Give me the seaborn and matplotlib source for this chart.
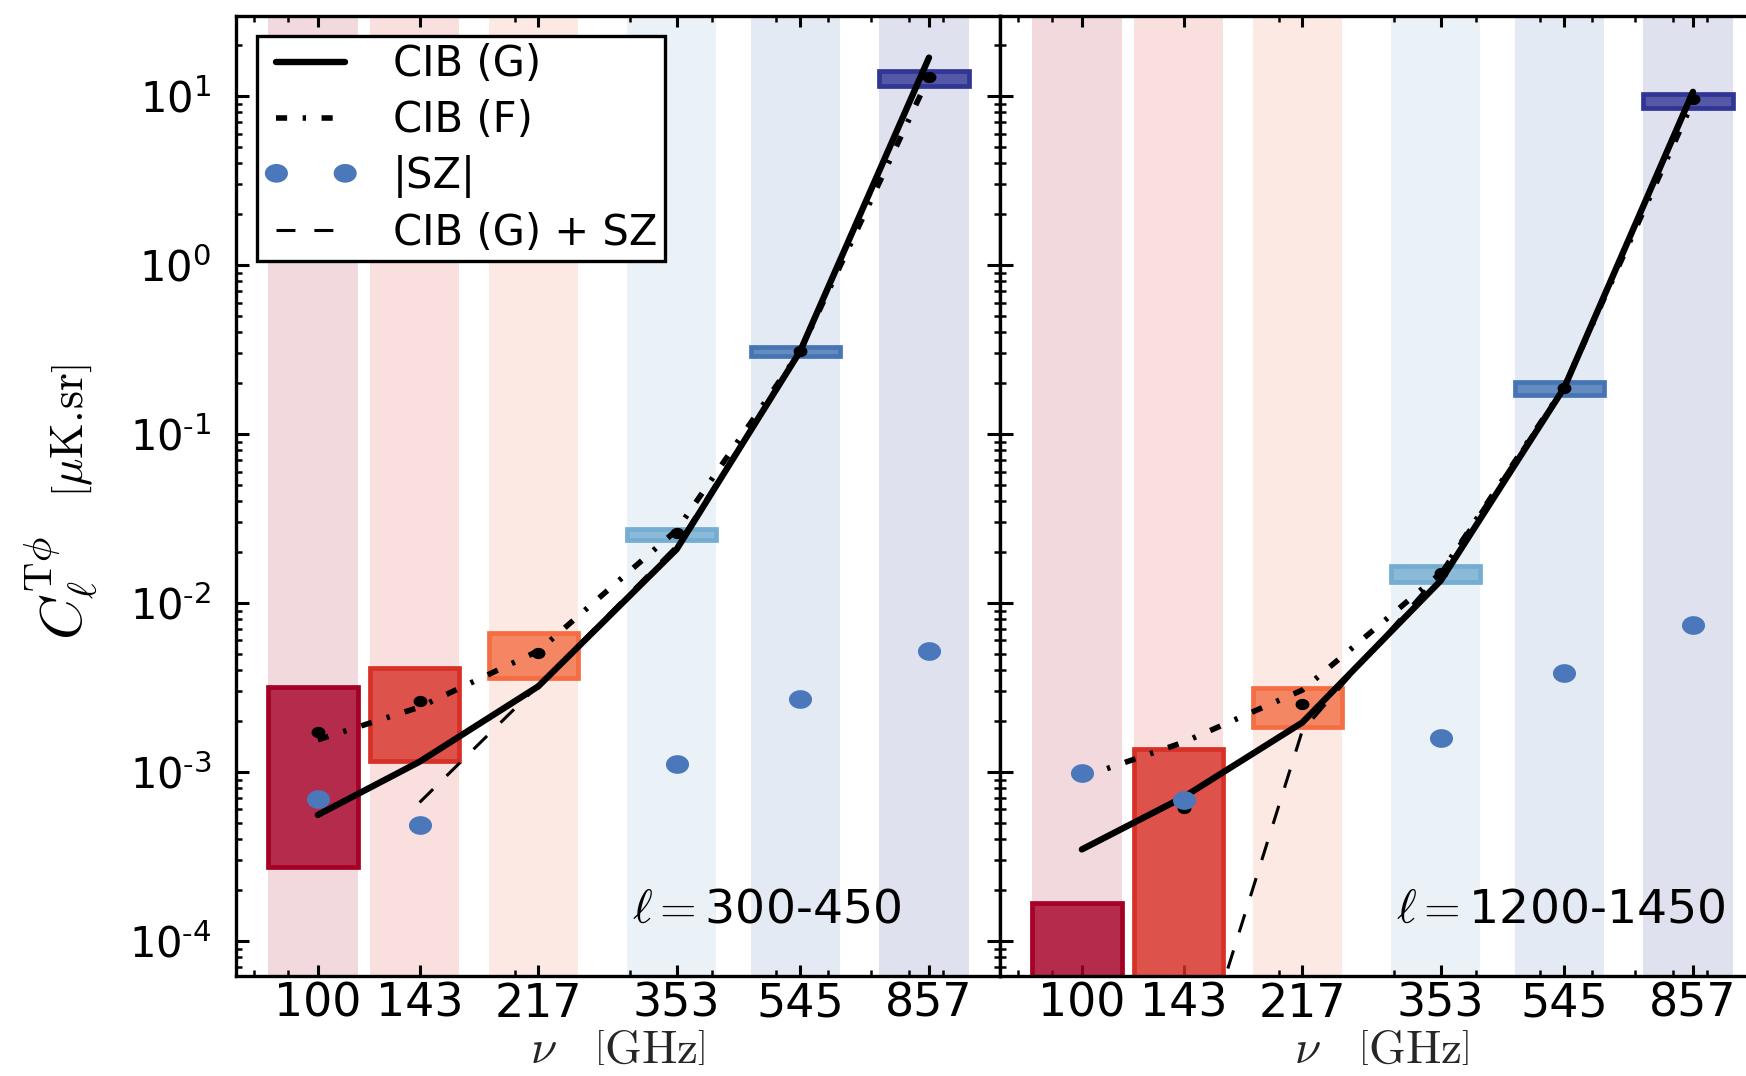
import numpy as np
import matplotlib
matplotlib.use("Agg")
import matplotlib.pyplot as plt
from matplotlib.colors import to_rgba
from matplotlib.ticker import LogLocator, NullFormatter, FuncFormatter
import seaborn as sns

# ==============================================================================
# data
freqs = np.array([100, 143, 217, 353, 545, 857])
freq_labels = ["100", "143", "217", "353", "545", "857"]
band_colors = ["#a50026", "#d73027", "#f46d43", "#74add1", "#4575b4", "#313695"]
nan = np.nan

# ell = 300-450
cib_g_lo = [5.57e-4, 1.15e-3, 3.21e-3, 2.08e-2, 0.31, 16.9]
cib_f_lo = [1.55e-3, 2.42e-3, 5.2e-3, 2.7e-2, 0.31, 13.0]
dots_lo = [1.73e-3, 2.64e-3, 5.09e-3, 2.59e-2, 0.31, 12.9]
sz_lo = [6.93e-4, 4.87e-4, nan, 1.11e-3, 2.71e-3, 5.2e-3]
cib_gsz_lo = [nan, 6.6e-4, 3.25e-3, 2.19e-2, 0.313, 16.9]
box_top_lo = [3.20e-3, 4.11e-3, 6.62e-3, 2.76e-2, 0.326, 14.1]
box_bot_lo = [2.75e-4, 1.16e-3, 3.59e-3, 2.35e-2, 0.288, 11.5]

# ell = 1200-1450
cib_g_hi = [3.48e-4, 7.1e-4, 1.96e-3, 1.355e-2, 0.188, 10.6]
cib_f_hi = [9.3e-4, 1.5e-3, 3.05e-3, 1.5e-2, 0.19, 9.3]
dots_hi = [9.6e-4, 6.1e-4, 2.53e-3, 1.51e-2, 0.188, 9.6]
sz_hi = [9.8e-4, 6.86e-4, nan, 1.58e-3, 3.85e-3, 7.4e-3]
cib_gsz_hi = [nan, 1.0e-5, 1.75e-3, 1.52e-2, 0.192, 10.6]
box_top_hi = [1.67e-4, 1.36e-3, 3.16e-3, 1.655e-2, 0.204, 10.3]
box_bot_hi = [1e-6, 1e-6, 1.85e-3, 1.327e-2, 0.171, 8.55]

ell_labels = ["300-450", "1200-1450"]

# ==============================================================================
sns.set_style("ticks")
plt.rcParams.update({
    "font.family": ["DejaVu Sans"],
    "mathtext.fontset": "cm",
    "axes.unicode_minus": False,
    "axes.linewidth": 1.2,
    "axes.edgecolor": "black",
    "text.color": "black",
    "xtick.color": "black",
    "ytick.color": "black",
    "xtick.direction": "in",
    "ytick.direction": "in",
    "xtick.top": True,
    "ytick.right": True,
    "xtick.major.size": 4.0,
    "xtick.minor.size": 2.0,
    "ytick.major.size": 4.7,
    "ytick.minor.size": 2.3,
    "xtick.major.width": 1.1,
    "xtick.minor.width": 0.9,
    "ytick.major.width": 1.1,
    "ytick.minor.width": 0.9,
})

# elliptical marker (the original picture is stretched sideways)
theta = np.linspace(0, 2 * np.pi, 60)
ellipse = np.column_stack([np.cos(theta), 0.81 * np.sin(theta)])


def decade_label(v, pos):
    # 10^n with a plain hyphen in the exponent, as in the original
    n = int(round(np.log10(v)))
    if n < 0:
        return r"$\mathdefault{10^{\text{-}%d}}$" % (-n)
    return r"$\mathdefault{10^{%d}}$" % n


fig = plt.figure(figsize=(8.73, 5.38), dpi=200)
ax1 = fig.add_axes([236 / 1746, 100 / 1076, 764 / 1746, 960.5 / 1076])
ax2 = fig.add_axes([1000 / 1746, 100 / 1076, 764 / 1746, 960.5 / 1076], sharey=ax1)


def draw_panel(ax, g, f, dots, sz, gsz, top, bot, ell, legend):
    ax.set_xscale("log")
    ax.set_yscale("log")
    for nu, c in zip(freqs, band_colors):
        ax.axvspan(0.84 * nu, 1.15 * nu, color=c, alpha=0.15, lw=0, zorder=0)
    ax.bar(0.84 * freqs, np.array(top) - np.array(bot), bottom=bot,
           width=0.31 * freqs, align="edge",
           facecolor=[to_rgba(c, 0.8) for c in band_colors],
           edgecolor=band_colors, linewidth=1.7, zorder=1)

    lab = (lambda s: s) if legend else (lambda s: None)
    sns.lineplot(x=freqs, y=g, ax=ax, color="k", lw=2.3, estimator=None,
                 errorbar=None, label=lab("CIB (G)"), zorder=3)
    sns.lineplot(x=freqs, y=f, ax=ax, color="k", lw=2.0, estimator=None,
                 errorbar=None, linestyle=(0, (2.0, 2.8, 0.6, 2.8)),
                 label=lab("CIB (F)"), zorder=3)
    sns.scatterplot(x=freqs, y=sz, ax=ax, color="#4a78bb", s=69,
                    marker=ellipse, linewidth=0, label=lab("|SZ|"), zorder=5)
    sns.lineplot(x=freqs, y=gsz, ax=ax, color="k", lw=1.1, estimator=None,
                 errorbar=None, linestyle=(0, (6.2, 6.2)),
                 label=lab("CIB (G) + SZ"), zorder=3)
    sns.scatterplot(x=freqs, y=dots, ax=ax, color="k", s=25,
                    marker=ellipse, linewidth=0, zorder=4)

    ax.set_xlim(75, 1100)
    ax.set_ylim(6.2e-5, 30)
    ax.set_xticks(freqs, freq_labels)
    ax.xaxis.set_minor_locator(LogLocator(base=10, subs=np.arange(2, 10), numticks=20))
    ax.xaxis.set_minor_formatter(NullFormatter())
    ax.yaxis.set_major_formatter(FuncFormatter(decade_label))
    ax.tick_params(axis="x", which="major", labelsize=16.5, pad=2)
    ax.tick_params(axis="y", which="major", labelsize=15, pad=9)
    ax.set_xlabel(r"$\nu\quad\left[{\rm GHz}\right]$", fontsize=17)
    ax.xaxis.label.set_va("baseline")
    ax.xaxis.set_label_coords(0.5, -0.0906)
    ax.text(0.518, 0.056, r"$\ell=$" + ell, transform=ax.transAxes,
            ha="left", va="baseline", fontsize=17)
    if legend:
        leg = ax.legend(loc="upper left", fontsize=15, numpoints=2,
                        scatterpoints=2, scatteryoffsets=[0.5],
                        handlelength=2.25, handletextpad=0.85,
                        borderpad=0.17, labelspacing=0.33, borderaxespad=0.5,
                        fancybox=False, framealpha=1)
        leg.get_frame().set_edgecolor("black")
        leg.get_frame().set_linewidth(1.2)
    else:
        leg = ax.get_legend()
        if leg is not None:
            leg.remove()


draw_panel(ax1, cib_g_lo, cib_f_lo, dots_lo, sz_lo, cib_gsz_lo,
           box_top_lo, box_bot_lo, ell_labels[0], True)
draw_panel(ax2, cib_g_hi, cib_f_hi, dots_hi, sz_hi, cib_gsz_hi,
           box_top_hi, box_bot_hi, ell_labels[1], False)
ax2.tick_params(axis="y", which="both", labelleft=False)

# y label in two parts (the symbol is set larger than the unit)
fig.text(83 / 1746, (1076 - 640) / 1076, r"$C_\ell^{\rm T\phi}$", fontsize=21,
         rotation=90, rotation_mode="anchor", ha="left", va="baseline")
fig.text(83 / 1746, (1076 - 497) / 1076, r"$\left[\mu{\rm K.\!sr}\right]$",
         fontsize=16.5, rotation=90, rotation_mode="anchor", ha="left", va="baseline")

fig.savefig("out.png", dpi=200)
